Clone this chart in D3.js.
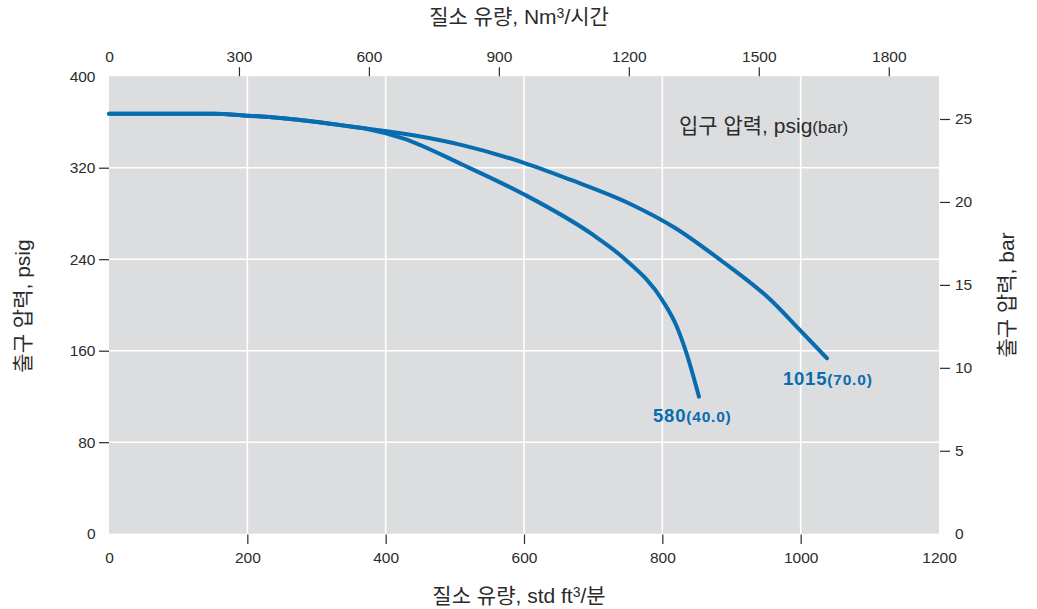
<!DOCTYPE html>
<html><head><meta charset="utf-8">
<script src="https://cdn.jsdelivr.net/npm/d3@7"></script>
<style>
body{margin:0;background:#fff}
svg{display:block}
text{font-family:"Liberation Sans","Noto Sans CJK KR",Arial,sans-serif;fill:#2b2b2b}
</style>
</head><body>
<svg id="c" width="1037" height="609"></svg>
<script>
// ---- data ----
const scfmTicks = [0, 200, 400, 600, 800, 1000, 1200];
const nm3Ticks = [0, 300, 600, 900, 1200, 1500, 1800];
const psigTicks = [0, 80, 160, 240, 320, 400];
const barTicks = [0, 5, 10, 15, 20, 25];
const scfmMax = 1200, nm3Max = 1916, psigMax = 400, barMax = 27.58;

// inlet 1015 psig (70.0 bar)
const flow1015 = [0, 150, 200, 286, 352, 402, 440, 512, 599, 667, 753, 818, 884, 956, 999, 1038];
const out1015  = [367.2, 367.2, 365.5, 361.1, 355.8, 351.8, 348.3, 339.5, 324.5, 309.5, 288.5, 267.5, 239.3, 204.7, 178.0, 153.4];
// inlet 580 psig (40.0 bar)
const flow580 = [0, 150, 200, 286, 352, 375, 425, 512, 599, 700, 746, 800, 821, 835, 853];
const out580  = [367.2, 367.2, 365.5, 361.1, 355.8, 353.6, 345.7, 322.4, 297.0, 261.2, 240.0, 204.1, 181.0, 157.7, 119.8];

const seriesNames = ["1015", "580"];
const seriesParens = ["(70.0)", "(40.0)"];

// ---- layout ----
const L = 109, R = 939, T = 76.2, B = 533.7;
const blue = "#086cb0";
const svg = d3.select("#c");

const x = d3.scaleLinear().domain([0, scfmMax]).range([L, R]);
const xTop = d3.scaleLinear().domain([0, nm3Max]).range([L, R]);
const y = d3.scaleLinear().domain([0, psigMax]).range([B, T]);
const yBar = d3.scaleLinear().domain([0, barMax]).range([B, T]);

svg.append("rect").attr("x", L).attr("y", T).attr("width", R - L).attr("height", B - T).attr("fill", "#dcdddf");

// grid
const g = svg.append("g");
g.selectAll("line.v").data(scfmTicks.filter(d => d > 0 && d < scfmMax)).join("line")
  .attr("x1", d => x(d)).attr("x2", d => x(d)).attr("y1", T).attr("y2", B)
  .attr("stroke", "#fff").attr("stroke-width", 1.6);
g.selectAll("line.h").data(psigTicks.filter(d => d > 0 && d < psigMax)).join("line")
  .attr("y1", d => y(d)).attr("y2", d => y(d)).attr("x1", L).attr("x2", R)
  .attr("stroke", "#fff").attr("stroke-width", 1.6);

function styleAxis(sel, noTick) {
  sel.select(".domain").remove();
  sel.selectAll(".tick line").attr("stroke", "#2b2b2b").attr("stroke-width", 1.2)
    .attr("opacity", d => noTick.includes(d) ? 0 : 1);
  sel.selectAll(".tick text").style("font-size", "15.5px").attr("fill", "#2b2b2b");
}

const axB = svg.append("g").attr("transform", `translate(0,${B + 0.8})`)
  .call(d3.axisBottom(x).tickValues(scfmTicks).tickSize(9.5).tickPadding(8).tickFormat(d3.format("d")));
styleAxis(axB, [0, 1200]);

const axT = svg.append("g").attr("transform", `translate(0,${T})`)
  .call(d3.axisTop(xTop).tickValues(nm3Ticks).tickSize(9).tickPadding(5).tickFormat(d3.format("d")));
styleAxis(axT, [0]);

const axL = svg.append("g").attr("transform", `translate(${L},0)`)
  .call(d3.axisLeft(y).tickValues(psigTicks).tickSize(10).tickPadding(3.5).tickFormat(d3.format("d")));
styleAxis(axL, [0, 400]);

const axR = svg.append("g").attr("transform", `translate(${R + 1},0)`)
  .call(d3.axisRight(yBar).tickValues(barTicks).tickSize(10).tickPadding(5).tickFormat(d3.format("d")));
styleAxis(axR, [0]);

// curves
const line = d3.line().x(d => x(d[0])).y(d => y(d[1])).curve(d3.curveMonotoneX);
const series = [d3.zip(flow1015, out1015), d3.zip(flow580, out580)];
const offsets = [[-44, 27], [-46, 25]];
series.forEach((s, i) => {
  svg.append("path").attr("d", line(s)).attr("fill", "none").attr("stroke", blue)
    .attr("stroke-width", 4).attr("stroke-linecap", "round").attr("stroke-linejoin", "round");
  const last = s[s.length - 1];
  const t = svg.append("text").attr("x", x(last[0]) + offsets[i][0]).attr("y", y(last[1]) + offsets[i][1])
    .attr("font-weight", "bold").style("letter-spacing", "0.8px");
  t.append("tspan").text(seriesNames[i]).attr("fill", blue).style("font-size", "18.5px");
  t.append("tspan").text(seriesParens[i]).attr("fill", blue).style("font-size", "15.5px");
});

// legend title
const lg = svg.append("text").attr("x", 679).attr("y", 133).style("font-size", "21px");
lg.append("tspan").text("입구 압력, psig");
lg.append("tspan").text("(bar)").style("font-size", "17px");

// axis titles
const tt = svg.append("text").attr("x", 519).attr("y", 24).attr("text-anchor", "middle").style("font-size", "21px");
tt.append("tspan").text("질소 유량, Nm");
tt.append("tspan").text("3").style("font-size", "14px").attr("dy", -6);
tt.append("tspan").text("/시간").attr("dy", 6);

const bt = svg.append("text").attr("x", 519).attr("y", 603).attr("text-anchor", "middle").style("font-size", "21px");
bt.append("tspan").text("질소 유량, std ft");
bt.append("tspan").text("3").style("font-size", "14px").attr("dy", -6);
bt.append("tspan").text("/분").attr("dy", 6);

svg.append("text").attr("transform", "translate(22,306) rotate(-90)").attr("text-anchor", "middle")
  .attr("dominant-baseline", "central").style("font-size", "21px").text("출구 압력, psig");
svg.append("text").attr("transform", "translate(1006,295) rotate(-90)").attr("text-anchor", "middle")
  .attr("dominant-baseline", "central").style("font-size", "21px").text("출구 압력, bar");
</script>
</body></html>
